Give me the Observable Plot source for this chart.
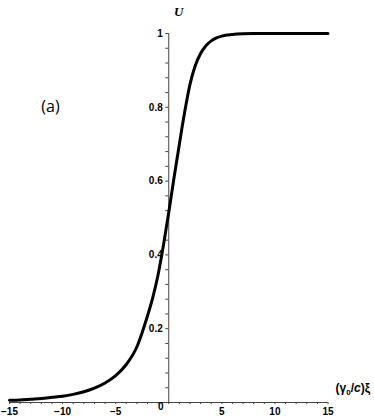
<!DOCTYPE html>
<html><head><meta charset="utf-8">
<script src="https://cdn.jsdelivr.net/npm/d3@7"></script>
<script src="https://cdn.jsdelivr.net/npm/@observablehq/plot@0.6"></script>
<style>body{margin:0;background:#fff} #chart{width:374px;height:416px}</style>
</head><body><div id="chart"></div>
<script>
const xi = [-15,-14,-13,-12,-11,-10,-9,-8,-7,-6,-5,-4,-3,-2.5,-2,-1.5,-1,-0.5,0,0.5,1,1.5,2,2.5,3,3.5,4,4.5,5,6,7,8,10,12,15];
const U  = [0.006,0.007,0.009,0.011,0.014,0.017,0.022,0.029,0.039,0.053,0.073,0.103,0.151,0.19,0.235,0.285,0.347,0.426,0.515,0.61,0.70,0.787,0.862,0.913,0.946,0.967,0.98,0.988,0.993,0.997,0.999,1,1,1,1];
const xTickLabels = [-15,-10,-5,5,10,15];
const yTickLabels = [0.2,0.4,0.6,0.8,1];
const xMinorTicks = d3.range(-15, 16, 1);
const yMinorTicks = d3.range(1, 26).map(i => +(i * 0.04).toFixed(2));

const data = xi.map((x, i) => ({x, u: U[i]}));
const axisColor = "#444";
const font = "Liberation Sans, Arial, sans-serif";

const plot = Plot.plot({
  width: 374,
  height: 416,
  marginLeft: 9,
  marginRight: 46.5,
  marginTop: 33,
  marginBottom: 14,
  x: {domain: [-15, 15], axis: null},
  y: {domain: [0, 1], axis: null},
  style: {fontFamily: font, color: "#000", background: "#fff"},
  marks: [
    Plot.ruleY([0], {x1: -15, x2: 15, stroke: axisColor, strokeWidth: 1}),
    Plot.ruleX([0], {y1: 0, y2: 1, stroke: axisColor, strokeWidth: 1}),
    Plot.ruleX(xMinorTicks, {x: d => d, y1: 0, y2: 0, insetBottom: -2, stroke: axisColor}),
    Plot.ruleY(yMinorTicks, {y: d => d, x1: 0, x2: 0, insetLeft: -3, stroke: axisColor}),
    Plot.text(yTickLabels, {x: 0, y: d => d, text: d => String(d), textAnchor: "end", dx: -6, fontWeight: "bold", fontSize: 10, fill: "#000"}),
    Plot.text(xTickLabels, {x: d => d, y: 0, text: d => d < 0 ? "\u2212" + (-d) : String(d), dy: 9, fontWeight: "bold", fontSize: 10, fill: "#000"}),
    Plot.text(["0"], {x: 0, y: 0, text: d => d, dx: -8, dy: 4.5, fontWeight: "bold", fontSize: 10, fill: "#000"}),
    Plot.text(["U"], {x: 0, y: 1, text: d => d, dx: 10, dy: -22, fontFamily: "Liberation Serif, serif", fontStyle: "italic", fontWeight: "bold", fontSize: 13, fill: "#000"}),
    Plot.text(["(a)"], {frameAnchor: "top-left", text: d => d, dx: 41, dy: 67, textAnchor: "middle", fontFamily: "Open Sans, sans-serif", fontSize: 16, fill: "#000"}),
    Plot.line(data, {x: "x", y: "u", stroke: "#000", strokeWidth: 3, curve: "monotone-x"})
  ]
});

document.getElementById("chart").appendChild(plot);

// x-axis title with subscript
const sx = plot.scale("x"), sy = plot.scale("y");
const t = d3.select(plot).append("text")
  .attr("x", sx.apply(15) + 8)
  .attr("y", sy.apply(0) - 10)
  .attr("text-anchor", "start")
  .attr("font-family", font)
  .attr("font-weight", "bold")
  .attr("font-size", 12)
  .attr("fill", "#000");
t.append("tspan").text("(\u03b3");
t.append("tspan").attr("dy", 3).attr("font-size", 8).text("0");
t.append("tspan").attr("dy", -3).text("/");
t.append("tspan").attr("font-style", "italic").text("c");
t.append("tspan").text(")\u03be");
</script>
</body></html>
